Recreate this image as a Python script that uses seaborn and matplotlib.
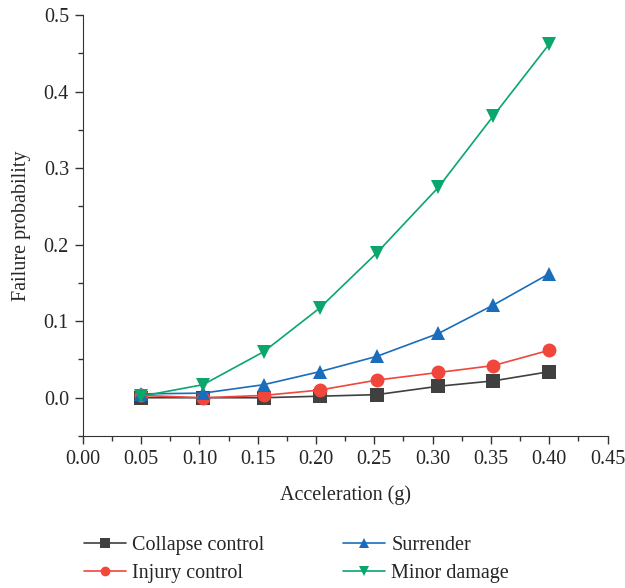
import pandas as pd
import seaborn as sns
import numpy as np
import matplotlib
matplotlib.use('Agg')
import matplotlib.pyplot as plt
from matplotlib.ticker import MultipleLocator

# values
accel = [0.05, 0.103, 0.155, 0.203, 0.252, 0.305, 0.352, 0.40]
collapse = [0.0, 0.0, 0.0, 0.002, 0.004, 0.015, 0.022, 0.034]
injury = [0.003, 0.0, 0.003, 0.010, 0.023, 0.033, 0.042, 0.062]
surrender = [0.005, 0.006, 0.017, 0.034, 0.054, 0.084, 0.121, 0.162]
minor = [0.002, 0.017, 0.060, 0.117, 0.189, 0.275, 0.368, 0.462]

names = ['Collapse control', 'Injury control', 'Surrender', 'Minor damage']
colors = ['#404040', '#f0463c', '#1a6dbb', '#0aa66b']
marks = ['s', 'o', '^', 'v']

df = pd.DataFrame({
    'Acceleration': accel * 4,
    'Failure': collapse + injury + surrender + minor,
    'Level': np.repeat(names, len(accel)),
})

sns.set_style('ticks')
plt.rcParams['font.family'] = ['Liberation Serif', 'DejaVu Serif']

fig = plt.figure(figsize=(6.25, 5.88), dpi=100)
ax = fig.add_axes([0.1326, 0.2585, 0.8394, 0.716])

sns.lineplot(data=df, x='Acceleration', y='Failure', hue='Level', style='Level',
             hue_order=names, style_order=names,
             palette=dict(zip(names, colors)), markers=dict(zip(names, marks)),
             dashes=False, markersize=10, markeredgewidth=0, linewidth=1.2,
             legend=False, ax=ax)

ax.set_xlim(0, 0.45)
ax.set_ylim(-0.05, 0.5)
ax.xaxis.set_major_locator(MultipleLocator(0.05))
ax.xaxis.set_minor_locator(MultipleLocator(0.025))
ax.yaxis.set_major_locator(MultipleLocator(0.1))
ax.yaxis.set_minor_locator(MultipleLocator(0.05))
ax.set_yticks(np.arange(0, 0.51, 0.1))
ax.set_xticklabels(['%.2f' % v for v in ax.get_xticks()])
ax.set_yticklabels(['%.1f' % v for v in ax.get_yticks()])
ax.tick_params(which='major', length=6, width=1, labelsize=14.5, color='#333333', pad=4)
ax.tick_params(which='minor', length=3.5, width=1, color='#333333')
ax.set_xlabel('Acceleration (g)', fontsize=14.5, labelpad=12)
ax.set_ylabel('Failure probability', fontsize=14.5, labelpad=9)
for s in ['top', 'right']:
    ax.spines[s].set_visible(False)
for s in ['left', 'bottom']:
    ax.spines[s].set_color('#333333')

handles = [plt.Line2D([], [], color=c, marker=m, markersize=7, markeredgewidth=0, linewidth=1.2)
           for c, m in zip(colors, marks)]
fig.legend(handles, names, loc='lower left', bbox_to_anchor=(0.105, -0.022), ncol=2,
           frameon=False, fontsize=14.5, handlelength=2.1, columnspacing=3.9,
           labelspacing=0.45, handletextpad=0.3)

fig.savefig('out.png', dpi=100)
